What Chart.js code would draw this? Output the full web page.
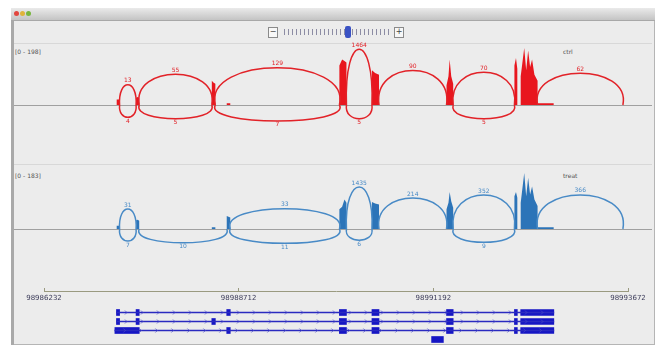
<!DOCTYPE html>
<html>
<head>
<meta charset="utf-8">
<script src="https://cdn.jsdelivr.net/npm/chart.js@4.4.0/dist/chart.umd.min.js"></script>
<style>
  body { margin: 0; width: 665px; height: 347px; background: #fff; position: relative; overflow: hidden; font-family: "DejaVu Sans", sans-serif; }
  .abs { position: absolute; }
  #win { left: 11px; top: 8px; width: 644px; height: 337px; background: #ececec; border: 1px solid #b5b5b5; box-sizing: border-box; }
  #titlebar { left: 11px; top: 8px; width: 644px; height: 13px; background: linear-gradient(#eaeaea, #c4c4c4); border-bottom: 1px solid #a8a8a8; box-sizing: border-box; }
  .light { top: 11px; width: 5px; height: 5px; border-radius: 50%; }
  #leftedge { left: 11px; top: 21px; width: 3px; height: 324px; background: #a9a9a9; }
  .box { top: 27px; width: 8px; height: 9px; border: 1px solid #8a8a8a; background: #f7f7f7; font-size: 8px; line-height: 8px; text-align: center; color: #444; }
  #ticks { left: 284px; top: 29px; width: 107px; height: 6px; background: repeating-linear-gradient(90deg, #8c8ca4 0 1px, transparent 1px 4px); }
  #thumb { left: 345px; top: 26px; width: 6px; height: 12px; background: #3a52c4; border-radius: 2px; }
  .sep { left: 14px; width: 638px; height: 1px; background: #d8d8d8; }
  .base { left: 14px; width: 638px; height: 1px; background: #a0a0a0; }
  .lbl { font-size: 6px; color: #555; }
  canvas { position: absolute; left: 0; }
</style>
</head>
<body>
<div id="win" class="abs"></div>
<div id="titlebar" class="abs"></div>
<div class="abs light" style="left:14px;background:#e2463f"></div>
<div class="abs light" style="left:20px;background:#e0b43a"></div>
<div class="abs light" style="left:26px;background:#78b63e"></div>
<div id="leftedge" class="abs"></div>

<div class="abs box" style="left:268px">&minus;</div>
<div id="ticks" class="abs"></div>
<div id="thumb" class="abs"></div>
<div class="abs box" style="left:394px">+</div>

<div class="abs sep" style="top:43px"></div>
<div class="abs sep" style="top:164px"></div>
<div class="abs base" style="top:105px"></div>
<div class="abs base" style="top:229px"></div>

<div class="abs lbl" style="left:15px;top:48px">[0 - 198]</div>
<div class="abs lbl" style="left:15px;top:172px">[0 - 183]</div>
<div class="abs lbl" style="left:563px;top:48px">ctrl</div>
<div class="abs lbl" style="left:563px;top:172px">treat</div>

<canvas id="redTrack" width="665" height="115" style="top:30px"></canvas>
<canvas id="blueTrack" width="665" height="115" style="top:150px"></canvas>
<canvas id="ruler" width="665" height="25" style="top:280px"></canvas>
<canvas id="genes" width="665" height="47" style="top:300px"></canvas>

<script>
// genomic window shown
const X_MIN = 98986232;
const X_MAX = 98993672;
const TICK_VALUES = [98986232, 98988712, 98991192, 98993672];

// coverage (read depth) of sample 1
const RED_COV_X = [
  98987155, 98987155, 98987195, 98987195,
  98987405, 98987405, 98987425, 98987445, 98987445,
  98988370, 98988370, 98988390, 98988415, 98988415,
  98988560, 98988560, 98988605, 98988605,
  98989995, 98989995, 98990030, 98990060, 98990085, 98990085,
  98990410, 98990410, 98990450, 98990500, 98990500,
  98991360, 98991360, 98991385, 98991400, 98991420, 98991445, 98991445,
  98992225, 98992225, 98992245, 98992262, 98992262,
  98992305, 98992305, 98992350, 98992375, 98992400, 98992425, 98992450, 98992480, 98992520, 98992520, 98992727, 98992727
];
const RED_COV_Y = [
  0, 18, 18, 0,
  0, 24, 26, 22, 0,
  0, 80, 74, 70, 0,
  0, 6, 6, 0,
  0, 130, 150, 145, 140, 0,
  0, 115, 106, 100, 0,
  0, 65, 95, 150, 95, 70, 0,
  0, 130, 155, 120, 0,
  0, 95, 188, 115, 180, 125, 150, 100, 80, 6, 6, 0
];

// coverage of sample 2
const BLUE_COV_X = RED_COV_X;
const BLUE_COV_Y = [
  0, 10, 10, 0,
  0, 27, 28, 25, 0,
  0, 5, 5, 5, 0,
  0, 40, 35, 0,
  0, 60, 68, 90, 80, 0,
  0, 82, 78, 75, 0,
  0, 60, 80, 113, 85, 65, 0,
  0, 100, 113, 95, 0,
  0, 80, 171, 100, 156, 105, 130, 90, 70, 5, 5, 0
];

// splice junctions, sample 1
const RED_J_START = [98987195, 98987445, 98988415, 98990085, 98990500, 98991445, 98992520, 98987195, 98987445, 98988415, 98990085, 98991445];
const RED_J_END = [98987405, 98988370, 98989995, 98990410, 98991360, 98992225, 98993607, 98987405, 98988370, 98989995, 98990410, 98992225];
const RED_J_COUNT = [13, 55, 129, 1464, 90, 70, 62, 4, 5, 7, 5, 5];
const RED_J_SIDE = ["up", "up", "up", "up", "up", "up", "up", "down", "down", "down", "down", "down"];

// splice junctions, sample 2
const BLUE_J_START = [98987195, 98988605, 98990085, 98990500, 98991445, 98992520, 98987195, 98987445, 98988605, 98990085, 98991445];
const BLUE_J_END = [98987405, 98989995, 98990410, 98991360, 98992225, 98993607, 98987405, 98988560, 98989995, 98990410, 98992225];
const BLUE_J_COUNT = [31, 33, 1435, 214, 352, 366, 7, 10, 11, 6, 9];
const BLUE_J_SIDE = ["up", "up", "up", "up", "up", "up", "down", "down", "down", "down", "down"];

// transcripts
const ROWS = ["t1", "t2", "t3", "t4"];
const T1_EXONS = [[98987155, 98987195], [98987405, 98987445], [98988560, 98988605], [98989995, 98990085], [98990410, 98990500], [98991360, 98991445], [98992225, 98992262], [98992305, 98992727]];
const T2_EXONS = [[98987155, 98987195], [98987405, 98987445], [98988370, 98988415], [98989995, 98990085], [98990410, 98990500], [98991360, 98991445], [98992225, 98992262], [98992305, 98992727]];
const T3_EXONS = [[98987135, 98987445], [98988560, 98988605], [98989995, 98990085], [98990410, 98990500], [98991360, 98991445], [98992225, 98992262], [98992305, 98992727]];
const T4_EXONS = [[98991170, 98991320]];

const PAD_LEFT = 44;
const PAD_RIGHT = 37;

// draw junction arcs with counts
const sashimiArcs = {
  id: "sashimiArcs",
  afterDatasetsDraw(chart, args, opts) {
    if (!opts.starts) return;
    const ctx = chart.ctx;
    const x = chart.scales.x, y = chart.scales.y;
    const base = y.getPixelForValue(0);
    const maxC = Math.max(...opts.counts);
    ctx.save();
    ctx.strokeStyle = opts.color;
    ctx.fillStyle = opts.color;
    ctx.lineWidth = 1.5;
    ctx.font = '6px "DejaVu Sans"';
    ctx.textAlign = "center";
    opts.starts.forEach((s, i) => {
      const x0 = x.getPixelForValue(s);
      const x1 = x.getPixelForValue(opts.ends[i]);
      const peak = y.max * opts.frac * Math.log(opts.counts[i] + 1) / Math.log(maxC + 1);
      const h = base - y.getPixelForValue(peak);
      const dir = opts.sides[i] === "up" ? -1 : 1;
      const cy = base + dir * h * 4 / 3;
      const bulge = (x1 - x0) * 0.1;
      ctx.beginPath();
      ctx.moveTo(x0, base);
      ctx.bezierCurveTo(x0 - bulge, cy, x1 + bulge, cy, x1, base);
      ctx.stroke();
      ctx.textBaseline = dir < 0 ? "bottom" : "top";
      ctx.fillText(String(opts.counts[i]), (x0 + x1) / 2, base + dir * (h + 1));
    });
    ctx.restore();
  }
};

function trackChart(id, xs, ys, yMax, fill, arcColor, junc, frac, padTop, padBottom) {
  return new Chart(document.getElementById(id), {
    type: "line",
    data: {
      datasets: [{
        data: xs.map((v, i) => ({ x: v, y: ys[i] })),
        fill: "origin",
        backgroundColor: fill,
        borderColor: "rgba(0,0,0,0)",
        pointRadius: 0,
        tension: 0
      }]
    },
    options: {
      responsive: false,
      animation: false,
      layout: { padding: { left: PAD_LEFT, right: PAD_RIGHT, top: padTop, bottom: padBottom } },
      scales: {
        x: { type: "linear", min: X_MIN, max: X_MAX, display: false },
        y: { min: 0, max: yMax, display: false }
      },
      plugins: {
        legend: { display: false },
        tooltip: { enabled: false },
        sashimiArcs: { color: arcColor, frac: frac, starts: junc[0], ends: junc[1], counts: junc[2], sides: junc[3] }
      }
    },
    plugins: [sashimiArcs]
  });
}

trackChart("redTrack", RED_COV_X, RED_COV_Y, 198, "rgb(232,22,30)", "rgb(226,34,40)",
  [RED_J_START, RED_J_END, RED_J_COUNT, RED_J_SIDE], 0.93, 15, 40);
trackChart("blueTrack", BLUE_COV_X, BLUE_COV_Y, 183, "rgb(44,116,184)", "rgb(72,138,198)",
  [BLUE_J_START, BLUE_J_END, BLUE_J_COUNT, BLUE_J_SIDE], 0.7, 19, 36);

// ruler
new Chart(document.getElementById("ruler"), {
  type: "scatter",
  data: { datasets: [{ data: [] }] },
  options: {
    responsive: false,
    animation: false,
    layout: { padding: { left: PAD_LEFT, right: PAD_RIGHT, top: 8, bottom: 0 } },
    scales: {
      x: {
        type: "linear", min: X_MIN, max: X_MAX, position: "bottom",
        afterBuildTicks: s => { s.ticks = TICK_VALUES.map(v => ({ value: v })); },
        afterFit: s => { s.height = 14; },
        ticks: { callback: v => String(v), autoSkip: false, maxRotation: 0, padding: 3, color: "#3c3c5a", font: { family: "DejaVu Sans", size: 7 } },
        grid: { drawOnChartArea: true, drawTicks: false, color: "#9a9a80" },
        border: { display: true, color: "#9a9a80" }
      },
      y: { display: false }
    },
    plugins: { legend: { display: false }, tooltip: { enabled: false } }
  }
});

// intron direction marks
const intronArrows = {
  id: "intronArrows",
  afterDatasetDraw(chart, args) {
    if (args.index !== 0) return;
    const ctx = chart.ctx;
    ctx.save();
    ctx.strokeStyle = "#4a4ac8";
    ctx.lineWidth = 0.7;
    args.meta.data.forEach(bar => {
      const p = bar.getProps(["x", "base", "y"], true);
      const left = Math.min(p.x, p.base), right = Math.max(p.x, p.base);
      for (let px = left + 10; px < right - 4; px += 16) {
        ctx.beginPath();
        ctx.moveTo(px - 1.5, p.y - 2);
        ctx.lineTo(px + 0.5, p.y);
        ctx.lineTo(px - 1.5, p.y + 2);
        ctx.stroke();
      }
    });
    ctx.restore();
  }
};

const transcripts = [T1_EXONS, T2_EXONS, T3_EXONS, T4_EXONS];
const intronData = [];
const exonData = [];
transcripts.forEach((ex, r) => {
  if (ex.length > 1) intronData.push({ y: ROWS[r], x: [ex[0][0], ex[ex.length - 1][1]] });
  ex.forEach(e => exonData.push({ y: ROWS[r], x: e }));
});

new Chart(document.getElementById("genes"), {
  type: "bar",
  data: {
    labels: ROWS,
    datasets: [
      { data: intronData, barThickness: 1, backgroundColor: "#2a2ac0", grouped: false },
      { data: exonData, barThickness: 6, backgroundColor: "#1616c4", grouped: false }
    ]
  },
  options: {
    indexAxis: "y",
    responsive: false,
    animation: false,
    layout: { padding: { left: PAD_LEFT, right: PAD_RIGHT, top: 8, bottom: 3 } },
    scales: {
      x: { type: "linear", min: X_MIN, max: X_MAX, display: false },
      y: { type: "category", display: false }
    },
    plugins: { legend: { display: false }, tooltip: { enabled: false } }
  },
  plugins: [intronArrows]
});
</script>
</body>
</html>
